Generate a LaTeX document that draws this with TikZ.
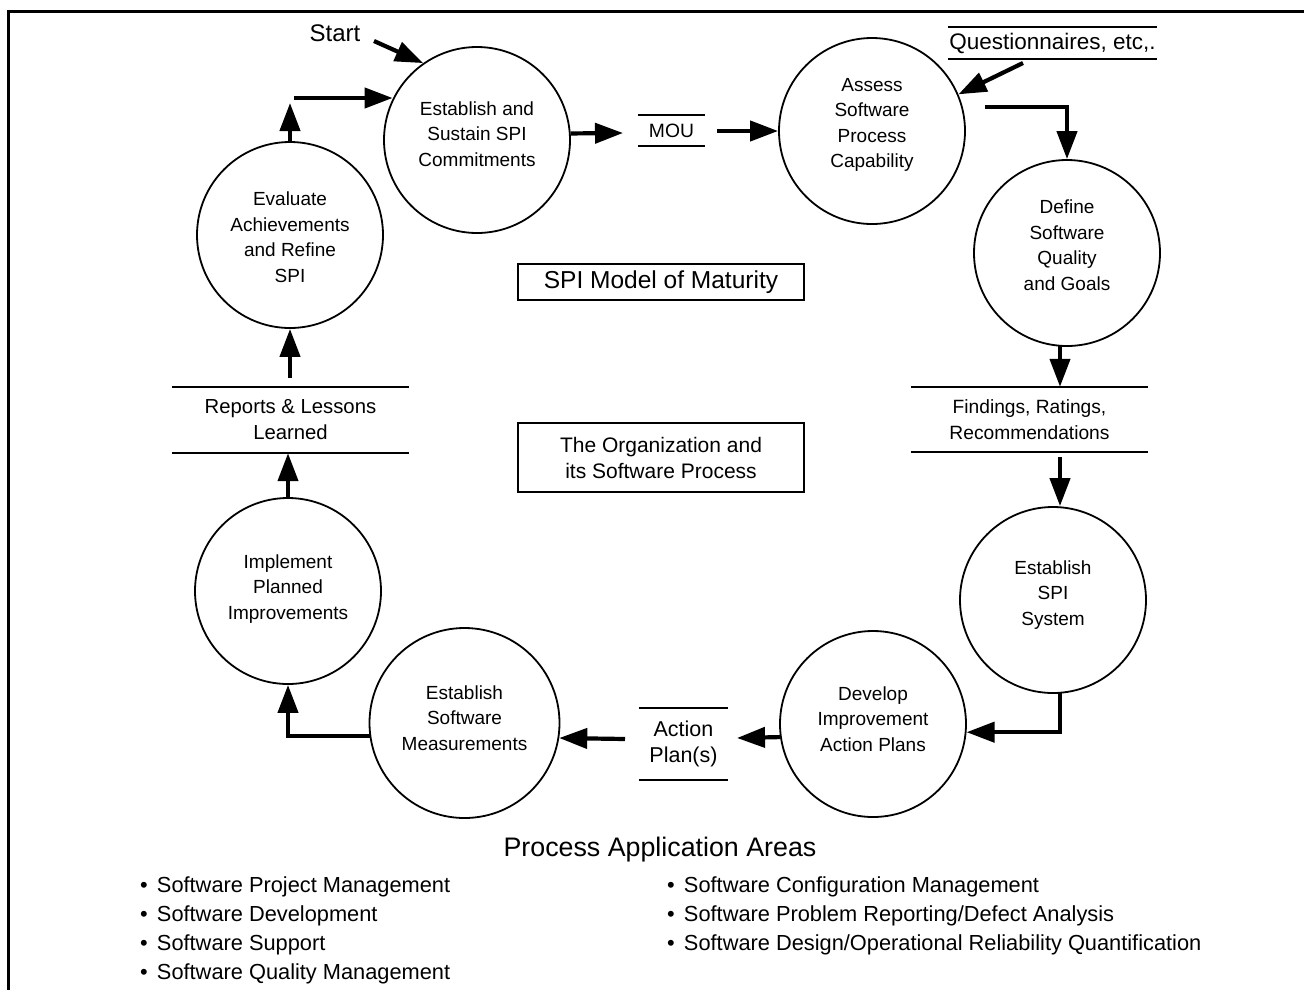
\documentclass[tikz,border=0pt]{standalone}
\usepackage{fontspec}
\setmainfont{Liberation Sans}
\usetikzlibrary{arrows.meta}
\newcommand{\myfs}[2]{\fontsize{#1}{#2}\selectfont}
\begin{document}
\begin{tikzpicture}[x=1pt,y=-1pt,
  circ/.style={circle,draw,line width=1.8pt,minimum size=186pt,inner sep=0pt},
  ctext/.style={align=center,inner sep=0pt,font=\myfs{19}{25.5}},
  flow/.style={line width=4.2pt,-{Triangle[length=28pt,width=20pt]}},
  store/.style={inner sep=0pt,align=center},
  bar/.style={line width=1.8pt},
  box/.style={draw,line width=1.8pt,inner sep=0pt,align=center},
  item/.style={anchor=west,inner sep=0pt,font=\myfs{21.8}{26},text height=16pt,text depth=5pt}
]
\useasboundingbox (0,0) rectangle (1304,989);
% frame
\draw[line width=3pt] (8,995) -- (8,11) -- (1310,11);

% circles
\node[circ] (c1) at (477,140) {};
\node[ctext] (c1t) at (477,134) {Establish and\\Sustain SPI\\Commitments};
\node[circ] (c2) at (872,131) {};
\node[ctext] (c2t) at (872,125) {Assess\\Software\\Process\\Capability};
\node[circ] (c3) at (1067,253) {};
\node[ctext] (c3t) at (1067,245) {Define\\Software\\Quality\\and Goals};
\node[circ] (c4) at (1053,600) {};
\node[ctext] (c4t) at (1053,595) {Establish\\SPI\\System};
\node[circ] (c5) at (873,724) {};
\node[ctext] (c5t) at (873,719) {Develop\\Improvement\\Action Plans};
\node[circ,minimum size=190pt] (c6) at (464.5,723) {};
\node[ctext] (c6t) at (464.5,718) {Establish\\Software\\Measurements};
\node[circ] (c7) at (288,591) {};
\node[ctext] (c7t) at (288,589) {Implement\\Planned\\Improvements};
\node[circ] (c8) at (290,235) {};
\node[ctext] (c8t) at (290,237) {Evaluate\\Achievements\\and Refine\\SPI};

% central boxes
\node[box,minimum width=286pt,minimum height=36pt,font=\myfs{24.5}{30}] (spi) at (661,282) {SPI Model of Maturity};
\node[box,minimum width=286pt,minimum height=69pt,font=\myfs{21}{26}] (org) at (661,457.5) {The Organization and\\its Software Process};

% data stores
\node[store,minimum width=67pt,minimum height=31pt,font=\myfs{19.3}{24}] (mou) at (671.5,130.5) {MOU};
\draw[bar] (mou.north west) -- (mou.north east) (mou.south west) -- (mou.south east);
\node[store,minimum width=209pt,minimum height=32pt,font=\myfs{22.5}{26}] (que) at (1052.5,43) {Questionnaires, etc,.};
\draw[bar] (que.north west) -- (que.north east) (que.south west) -- (que.south east);
\node[store,minimum width=237pt,minimum height=65pt,font=\myfs{19.2}{26}] (fnd) at (1029.5,419.5) {Findings, Ratings,\\Recommendations};
\draw[bar] (fnd.north west) -- (fnd.north east) (fnd.south west) -- (fnd.south east);
\node[store,minimum width=237pt,minimum height=66pt,font=\myfs{20.3}{26}] (rep) at (290.5,420) {Reports \& Lessons\\Learned};
\draw[bar] (rep.north west) -- (rep.north east) (rep.south west) -- (rep.south east);
\node[store,minimum width=89pt,minimum height=72pt,font=\myfs{21.5}{26}] (act) at (683.5,744) {Action\\Plan(s)};
\draw[bar] (act.north west) -- (act.north east) (act.south west) -- (act.south east);

% start label
\node[inner sep=0pt,font=\myfs{24}{28}] (start) at (335,33) {Start};

% free-end coordinates
\coordinate (st0) at (374,41);
\coordinate (e1) at (290,103);
\coordinate (e2) at (294,98);
\coordinate (m1) at (623,133);
\coordinate (m2) at (717,131);
\coordinate (q0) at (1023,63);
\coordinate (a0) at (985,107);
\coordinate (d0) at (1060,345);
\coordinate (f1) at (1060,457);
\coordinate (s0) at (1060,692);
\coordinate (ap0) at (737,738);
\coordinate (ap1) at (625,739);
\coordinate (r1) at (290,378);

% connectors
\draw[flow] (st0) -- (c1.125);
\draw[flow] (c8.north) -- (e1);
\draw[flow] (e2) -- (e2 -| c1.154);
\draw[flow] (c1.4) -- (m1);
\draw[flow] (m2) -- (c2.west);
\draw[flow] (q0) -- (c2.23);
\draw[flow] (a0) -- (a0 -| c3.north) -- (c3.north);
\draw[flow] (d0) -- (d0 |- fnd.north);
\draw[flow] (f1) -- (f1 |- c4.north);
\draw[flow] (s0) -- (s0 |- c5.-5.5) -- (c5.-5.5);
\draw[flow] (c5.188.6) -- (ap0);
\draw[flow] (ap1) -- (c6.-9.7);
\draw[flow] (c6.188.5) -- (c6.188.5 -| c7.south) -- (c7.south);
\draw[flow] (c7.north) -- (c7.north |- rep.south);
\draw[flow] (r1) -- (c8.south);

% process application areas
\node[inner sep=0pt,font=\myfs{26.8}{30}] (paa) at (660,850) {Process Application Areas};
\node[item] (l1) at (140,887) {•\hspace{0.42em}Software Project Management};
\node[item] (l2) at (140,916) {•\hspace{0.42em}Software Development};
\node[item] (l3) at (140,945) {•\hspace{0.42em}Software Support};
\node[item] (l4) at (140,974) {•\hspace{0.42em}Software Quality Management};
\node[item] (r1t) at (667,887) {•\hspace{0.42em}Software Configuration Management};
\node[item] (r2t) at (667,916) {•\hspace{0.42em}Software Problem Reporting/Defect Analysis};
\node[item] (r3t) at (667,945) {•\hspace{0.42em}Software Design/Operational Reliability Quantification};
\end{tikzpicture}
\end{document}
